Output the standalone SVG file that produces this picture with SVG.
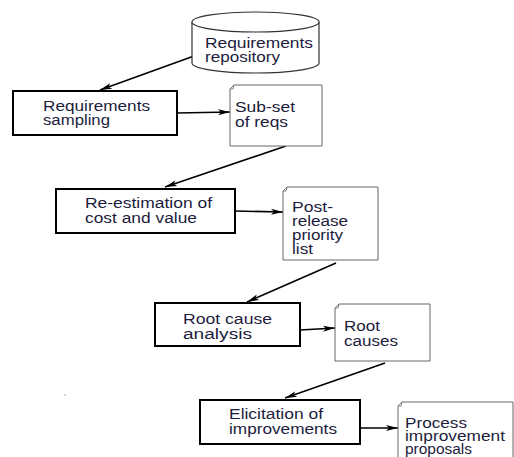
<svg xmlns="http://www.w3.org/2000/svg" width="514" height="457" viewBox="0 0 514 457">
<defs>
<style>
text{font-family:"Liberation Sans",Arial,sans-serif;font-size:14px;fill:#1c1c3c}
.box{fill:#fff;stroke:#000;stroke-width:2}
.doc{fill:#fff;stroke:#666;stroke-width:1}
.edge{stroke:#000;stroke-width:1.6;fill:none;marker-end:url(#ah)}
</style>
<marker id="ah" viewBox="0 0 12 8" refX="12" refY="4" markerWidth="12" markerHeight="8" markerUnits="userSpaceOnUse" orient="auto">
<path d="M0,1 L12,4 L0,7 L3,4 Z" fill="#000"/>
</marker>
</defs>
<rect width="514" height="457" fill="#fff"/>
<g id="connectors">
<line class="edge" x1="194" y1="56" x2="100" y2="90"/>
<line class="edge" x1="177" y1="113" x2="230" y2="112"/>
<line class="edge" x1="286" y1="146" x2="165" y2="187"/>
<line class="edge" x1="235" y1="211" x2="283" y2="212"/>
<line class="edge" x1="336" y1="263" x2="247" y2="302"/>
<line class="edge" x1="300" y1="330" x2="335" y2="328"/>
<line class="edge" x1="385" y1="363" x2="285" y2="398"/>
<line class="edge" x1="360" y1="428" x2="398" y2="428"/>
</g>
<g id="repository">
<path d="M192,22 L192,63 A63.5,10 0 0 0 319,63 L319,22" fill="#fff" stroke="#333" stroke-width="1.2"/>
<ellipse cx="255.5" cy="22" rx="63.5" ry="10" fill="#fff" stroke="#333" stroke-width="1.2"/>
<text x="205" y="48" textLength="108" lengthAdjust="spacingAndGlyphs">Requirements</text>
<text x="205" y="62" textLength="75" lengthAdjust="spacingAndGlyphs">repository</text>
</g>
<g id="sampling">
<rect class="box" x="13" y="91" width="164" height="44"/>
<text x="43" y="111" textLength="107" lengthAdjust="spacingAndGlyphs">Requirements</text>
<text x="43" y="125" textLength="67" lengthAdjust="spacingAndGlyphs">sampling</text>
</g>
<g id="subset">
<path class="doc" d="M234,85 L322,85 L322,146 L230,146 L230,89 Z"/>
<path d="M230,89 L234,85 L233,89 Z" fill="#fff" stroke="#666" stroke-width="0.8"/>
<text x="235" y="112" textLength="60" lengthAdjust="spacingAndGlyphs">Sub-set</text>
<text x="235" y="127" textLength="53" lengthAdjust="spacingAndGlyphs">of reqs</text>
</g>
<g id="reestimation">
<rect class="box" x="56" y="189" width="179" height="44"/>
<text x="85" y="208" textLength="127" lengthAdjust="spacingAndGlyphs">Re-estimation of</text>
<text x="85" y="223" textLength="112" lengthAdjust="spacingAndGlyphs">cost and value</text>
</g>
<g id="postrelease">
<path class="doc" d="M287,187 L378,187 L378,260 L283,260 L283,191 Z"/>
<path d="M283,191 L287,187 L286,191 Z" fill="#fff" stroke="#666" stroke-width="0.8"/>
<text x="292" y="212" textLength="41" lengthAdjust="spacingAndGlyphs">Post-</text>
<text x="292" y="226" textLength="56" lengthAdjust="spacingAndGlyphs">release</text>
<text x="292" y="240" textLength="51" lengthAdjust="spacingAndGlyphs">priority</text>
<text x="292" y="254" textLength="21" lengthAdjust="spacingAndGlyphs">list</text>
</g>
<g id="rootcause">
<rect class="box" x="155" y="303" width="145" height="43"/>
<text x="183" y="324" textLength="89" lengthAdjust="spacingAndGlyphs">Root cause</text>
<text x="183" y="339" textLength="69" lengthAdjust="spacingAndGlyphs">analysis</text>
</g>
<g id="rootcauses">
<path class="doc" d="M339,304 L430,304 L430,361 L335,361 L335,308 Z"/>
<path d="M335,308 L339,304 L338,308 Z" fill="#fff" stroke="#666" stroke-width="0.8"/>
<text x="344" y="331" textLength="36" lengthAdjust="spacingAndGlyphs">Root</text>
<text x="344" y="346" textLength="54" lengthAdjust="spacingAndGlyphs">causes</text>
</g>
<g id="elicitation">
<rect class="box" x="200" y="400" width="160" height="44"/>
<text x="229" y="419" textLength="94" lengthAdjust="spacingAndGlyphs">Elicitation of</text>
<text x="229" y="434" textLength="108" lengthAdjust="spacingAndGlyphs">improvements</text>
</g>
<g id="proposals">
<path class="doc" d="M402,402 L513,402 L513,460 L398,460 L398,406 Z"/>
<path d="M398,406 L402,402 L401,406 Z" fill="#fff" stroke="#666" stroke-width="0.8"/>
<text x="405" y="428" textLength="62" lengthAdjust="spacingAndGlyphs">Process</text>
<text x="405" y="441" textLength="100" lengthAdjust="spacingAndGlyphs">improvement</text>
<text x="405" y="454" textLength="67" lengthAdjust="spacingAndGlyphs">proposals</text>
</g>
<rect x="64.5" y="394.5" width="1" height="1" fill="#666"/>
</svg>
